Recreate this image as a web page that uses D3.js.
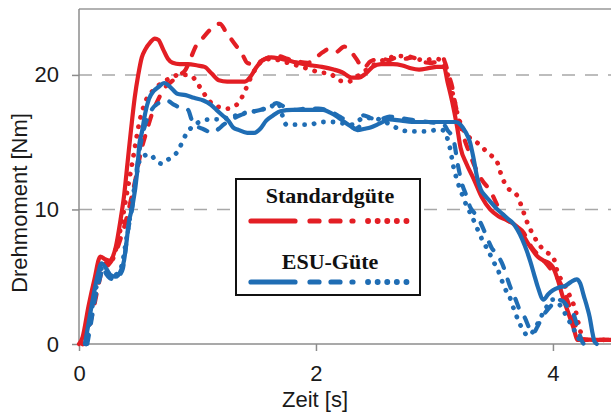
<!DOCTYPE html>
<html>
<head>
<meta charset="utf-8">
<script src="https://cdn.jsdelivr.net/npm/d3@7/dist/d3.min.js"></script>
<style>
  body { margin: 0; background: #fff; }
  svg { display: block; }
</style>
</head>
<body>
<svg id="root" width="611" height="414"></svg>
<script>
// Zeit [s] / Drehmoment [Nm]
const xTicks = [0, 2, 4]
const yTicks = [0, 10, 20]

const stdSolid = [[0,0],[0.03,0.5],[0.08,2.8],[0.13,4.8],[0.18,6.5],[0.22,6.3],[0.26,6.2],[0.31,7.2],[0.35,9.2],[0.38,11.0],[0.41,13.5],[0.44,16.0],[0.47,18.3],[0.50,20.0],[0.53,21.3],[0.56,21.9],[0.60,22.4],[0.64,22.7],[0.67,22.6],[0.71,21.9],[0.75,21.2],[0.79,20.9],[0.85,20.8],[0.92,20.8],[1.0,20.7],[1.06,20.6],[1.12,20.1],[1.18,19.6],[1.25,19.5],[1.33,19.5],[1.40,19.5],[1.45,19.9],[1.50,20.6],[1.55,21.1],[1.62,21.3],[1.70,21.2],[1.80,21.0],[1.90,20.8],[1.97,20.7],[2.05,20.6],[2.15,20.4],[2.22,20.2],[2.30,19.8],[2.36,19.8],[2.42,20.1],[2.48,20.6],[2.55,20.8],[2.65,20.8],[2.73,20.7],[2.80,20.5],[2.87,20.4],[2.95,20.5],[3.02,20.6],[3.08,20.6],[3.11,19.5],[3.15,18.0],[3.19,16.2],[3.22,14.6],[3.27,13.4],[3.33,12.3],[3.40,10.9],[3.47,10.0],[3.54,9.5],[3.61,9.2],[3.70,8.7],[3.76,7.9],[3.81,7.2],[3.87,6.5],[3.92,6.2],[3.97,6.0],[4.0,5.7],[4.04,4.8],[4.08,3.6],[4.13,2.3],[4.17,1.3],[4.21,0.3],[4.26,0.35],[4.35,0.3],[4.49,0.3]]

const stdDash = [[0.05,0],[0.08,1.0],[0.12,2.5],[0.16,4.2],[0.2,5.6],[0.25,5.9],[0.3,6.6],[0.35,7.8],[0.4,9.3],[0.44,10.8],[0.48,12.4],[0.52,14.2],[0.57,15.8],[0.62,17.2],[0.67,18.2],[0.72,19.0],[0.78,19.5],[0.85,20.0],[0.90,20.4],[0.95,21.4],[0.99,22.2],[1.04,22.7],[1.10,23.3],[1.15,23.7],[1.19,23.8],[1.24,23.2],[1.29,22.6],[1.34,22.0],[1.38,21.5],[1.42,20.9],[1.47,20.8],[1.53,21.0],[1.60,21.3],[1.68,21.4],[1.76,21.2],[1.85,21.0],[1.93,20.9],[2.0,21.3],[2.06,21.7],[2.10,21.9],[2.17,21.7],[2.24,22.1],[2.28,21.9],[2.34,21.2],[2.40,20.5],[2.46,21.0],[2.55,21.2],[2.62,21.1],[2.68,21.3],[2.75,21.2],[2.81,21.3],[2.89,21.0],[2.96,20.9],[3.03,21.0],[3.07,21.3],[3.09,20.9],[3.12,20.0],[3.15,19.1],[3.17,18.1],[3.20,16.9],[3.25,15.3],[3.30,14.1],[3.34,13.2],[3.40,12.2],[3.47,11.4],[3.55,10.0],[3.62,9.2],[3.68,8.8],[3.75,8.3],[3.82,7.2],[3.90,6.4],[3.97,5.7],[4.03,5.0],[4.08,4.2],[4.12,3.3],[4.17,2.0],[4.23,0.5],[4.27,0.3],[4.49,0.3]]

const stdDot = [[0.03,0],[0.07,1.5],[0.12,3.5],[0.17,5.5],[0.21,6.0],[0.26,6.0],[0.31,7.0],[0.36,9.0],[0.41,11.5],[0.46,14.0],[0.51,16.5],[0.56,18.0],[0.62,18.8],[0.70,19.4],[0.78,19.8],[0.84,20.0],[0.90,20.0],[0.95,19.9],[1.02,19.1],[1.08,18.3],[1.13,17.8],[1.19,17.6],[1.25,17.5],[1.30,17.6],[1.36,18.1],[1.40,18.8],[1.45,19.8],[1.50,20.6],[1.56,21.1],[1.63,21.2],[1.72,21.0],[1.80,20.8],[1.88,20.6],[1.95,20.4],[2.03,20.2],[2.12,20.1],[2.19,19.6],[2.27,19.5],[2.35,19.9],[2.43,20.4],[2.52,20.9],[2.60,21.2],[2.68,21.4],[2.76,21.4],[2.84,21.2],[2.92,21.1],[3.00,21.2],[3.06,21.1],[3.10,20.4],[3.13,19.4],[3.16,18.4],[3.20,16.9],[3.24,16.0],[3.30,15.3],[3.37,14.9],[3.45,14.2],[3.53,13.5],[3.57,12.4],[3.62,11.6],[3.70,11.0],[3.74,10.1],[3.78,9.1],[3.84,8.0],[3.90,7.2],[3.95,6.8],[4.0,6.5],[4.04,5.3],[4.09,4.5],[4.13,3.8],[4.19,2.5],[4.23,1.0],[4.26,0.3],[4.49,0.3]]

const esuSolid = [[0.05,0],[0.08,1.5],[0.12,3.5],[0.16,5.2],[0.19,6.0],[0.23,5.6],[0.27,5.1],[0.31,5.0],[0.35,5.4],[0.38,6.2],[0.40,7.5],[0.42,9.0],[0.45,10.2],[0.49,12.7],[0.51,14.9],[0.53,15.7],[0.56,17.2],[0.59,18.2],[0.63,18.8],[0.67,19.1],[0.72,19.4],[0.77,19.1],[0.83,18.6],[0.90,18.5],[0.97,18.3],[1.05,18.1],[1.11,17.8],[1.16,17.4],[1.21,17.0],[1.26,16.6],[1.30,16.1],[1.35,15.9],[1.42,15.7],[1.48,15.7],[1.53,16.0],[1.58,16.6],[1.64,17.0],[1.70,17.3],[1.80,17.4],[1.90,17.4],[2.0,17.4],[2.06,17.4],[2.12,17.2],[2.18,16.9],[2.24,16.5],[2.29,16.2],[2.35,15.9],[2.41,16.0],[2.46,16.1],[2.54,16.4],[2.62,16.7],[2.72,16.6],[2.85,16.5],[2.95,16.5],[3.05,16.5],[3.13,16.5],[3.18,16.5],[3.22,16.3],[3.26,15.8],[3.30,15.0],[3.33,13.8],[3.36,12.4],[3.39,11.5],[3.43,11.0],[3.47,10.6],[3.52,10.1],[3.57,9.7],[3.62,9.3],[3.66,9.0],[3.70,8.5],[3.74,7.8],[3.78,6.9],[3.81,6.1],[3.84,5.2],[3.87,4.3],[3.92,3.3],[3.96,3.7],[4.0,4.0],[4.05,4.2],[4.10,4.3],[4.15,4.6],[4.20,4.8],[4.23,4.5],[4.26,3.6],[4.29,2.7],[4.31,2.0],[4.33,1.0],[4.35,0.2],[4.37,0]]

const esuDash = [[0.07,0],[0.10,1.5],[0.14,3.6],[0.18,5.0],[0.20,5.7],[0.23,5.2],[0.26,4.9],[0.30,4.8],[0.34,5.1],[0.37,5.6],[0.39,6.8],[0.41,8.2],[0.45,10.2],[0.49,13.2],[0.53,15.3],[0.57,16.6],[0.62,17.5],[0.67,17.9],[0.71,18.1],[0.74,18.1],[0.80,17.8],[0.87,17.5],[0.92,17.4],[0.95,16.7],[0.98,16.3],[1.04,16.0],[1.09,15.8],[1.13,15.7],[1.18,16.0],[1.22,16.3],[1.29,16.7],[1.36,17.0],[1.43,17.2],[1.53,17.4],[1.60,17.6],[1.67,17.9],[1.74,17.6],[1.82,17.4],[1.92,17.5],[2.02,17.5],[2.12,17.3],[2.20,16.9],[2.27,16.5],[2.33,16.0],[2.37,16.2],[2.40,17.0],[2.46,16.8],[2.54,16.7],[2.62,16.9],[2.70,16.8],[2.78,16.7],[2.86,16.6],[2.95,16.5],[3.03,16.4],[3.08,16.3],[3.11,15.9],[3.16,15.2],[3.20,13.2],[3.23,12.0],[3.27,11.0],[3.30,10.2],[3.34,9.7],[3.39,9.0],[3.43,8.2],[3.48,7.2],[3.54,6.5],[3.58,5.8],[3.61,5.0],[3.65,4.0],[3.69,3.2],[3.72,2.5],[3.76,2.0],[3.80,1.2],[3.83,0.8],[3.87,1.3],[3.91,2.0],[3.95,2.5],[3.99,2.9],[4.03,3.3],[4.08,3.2],[4.13,2.7],[4.17,2.3],[4.21,1.2],[4.24,0.3],[4.26,0]]

const esuDot = [[0.06,0],[0.10,2.2],[0.14,4.0],[0.19,5.6],[0.23,5.3],[0.27,5.0],[0.32,5.2],[0.36,5.8],[0.40,7.8],[0.44,10.0],[0.48,12.3],[0.51,13.6],[0.55,14.0],[0.60,14.1],[0.65,13.6],[0.70,13.4],[0.75,13.7],[0.80,14.0],[0.84,14.4],[0.88,15.2],[0.92,15.8],[0.98,16.3],[1.04,16.6],[1.12,16.7],[1.19,16.7],[1.25,16.8],[1.30,16.9],[1.36,17.1],[1.42,17.2],[1.48,17.3],[1.53,17.4],[1.61,17.6],[1.68,17.9],[1.72,16.9],[1.75,16.3],[1.81,16.3],[1.87,16.3],[1.95,16.3],[2.03,16.5],[2.14,16.5],[2.23,16.4],[2.31,16.3],[2.40,16.8],[2.48,16.8],[2.56,16.6],[2.65,16.2],[2.72,15.9],[2.80,15.8],[2.88,15.8],[2.94,15.8],[3.01,15.9],[3.07,15.9],[3.10,15.5],[3.13,14.6],[3.16,13.2],[3.19,12.2],[3.23,11.2],[3.27,10.3],[3.31,9.6],[3.36,8.6],[3.40,7.8],[3.45,7.0],[3.50,6.1],[3.55,5.2],[3.59,4.2],[3.63,3.6],[3.67,2.6],[3.71,1.7],[3.75,1.0],[3.79,0.6],[3.83,0.9],[3.87,1.5],[3.91,2.2],[3.95,2.8],[4.00,3.3],[4.05,3.0],[4.10,2.3],[4.15,1.5],[4.20,0.7],[4.24,0]]

const red = '#e31e24'
const blue = '#1f6db4'
const styles = {
  solid: { width: 4.2, dash: null },
  dash: { width: 4.2, dash: '9,12' },
  dot: { width: 4.8, dash: '0.1,9.5' }
}

const series = [
  { data: stdSolid, color: red, style: 'solid' },
  { data: stdDash, color: red, style: 'dash' },
  { data: stdDot, color: red, style: 'dot' },
  { data: esuSolid, color: blue, style: 'solid' },
  { data: esuDash, color: blue, style: 'dash' },
  { data: esuDot, color: blue, style: 'dot' }
]

const root = d3.select('#root')
const plotLeft = 79, plotTop = 9, plotRight = 611, plotBottom = 344

const x = d3.scaleLinear().domain([0, 4.49]).range([plotLeft, plotRight])
const y = d3.scaleLinear().domain([0, 24.9]).range([plotBottom, plotTop])

// gitter
root.append('g')
  .selectAll('line')
  .data(yTicks.filter((d) => d > 0))
  .enter().append('line')
  .attr('x1', plotLeft).attr('x2', plotRight)
  .attr('y1', (d) => y(d)).attr('y2', (d) => y(d))
  .attr('stroke', '#a8a8a8')
  .attr('stroke-width', 1.5)
  .attr('stroke-dasharray', '13,10')

// rahmen oben
root.append('line')
  .attr('x1', plotLeft).attr('x2', plotRight)
  .attr('y1', plotTop).attr('y2', plotTop)
  .attr('stroke', '#999').attr('stroke-width', 1.5)

const yAxis = root.append('g')
  .attr('transform', `translate(${plotLeft},0)`)
  .call(d3.axisLeft(y).tickValues(yTicks).tickFormat(d3.format('d')).tickSize(7).tickPadding(13))
yAxis.select('.domain').attr('d', `M0,${plotTop}V${plotBottom}`)

const xAxis = root.append('g')
  .attr('transform', `translate(0,${plotBottom})`)
  .call(d3.axisBottom(x).tickValues(xTicks).tickFormat(d3.format('d')).tickSize(7).tickPadding(14))
xAxis.select('.domain').attr('d', `M${plotLeft},0H${plotRight}`)

root.selectAll('.domain, .tick line')
  .attr('stroke', '#8c8c8c')
  .attr('stroke-width', 1.5)
root.selectAll('.tick text')
  .attr('font-family', 'Liberation Sans, Arial, sans-serif')
  .attr('font-size', 22)
  .attr('fill', '#1a1a1a')

const line = d3.line()
  .x((d) => x(d[0]))
  .y((d) => y(d[1]))
  .curve(d3.curveMonotoneX)

root.append('g')
  .selectAll('path')
  .data(series)
  .enter().append('path')
  .attr('d', (d) => line(d.data))
  .attr('fill', 'none')
  .attr('stroke', (d) => d.color)
  .attr('stroke-width', (d) => styles[d.style].width)
  .attr('stroke-dasharray', (d) => styles[d.style].dash)
  .attr('stroke-linecap', 'round')
  .attr('stroke-linejoin', 'round')

// achsentitel
root.append('text')
  .attr('transform', 'translate(27,203) rotate(-90)')
  .attr('text-anchor', 'middle')
  .attr('font-family', 'Liberation Sans, Arial, sans-serif')
  .attr('font-size', 22)
  .attr('fill', '#1a1a1a')
  .text('Drehmoment [Nm]')

root.append('text')
  .attr('x', 315).attr('y', 407)
  .attr('text-anchor', 'middle')
  .attr('font-family', 'Liberation Sans, Arial, sans-serif')
  .attr('font-size', 22)
  .attr('fill', '#1a1a1a')
  .text('Zeit [s]')

// legende
const legend = root.append('g')
legend.append('rect')
  .attr('x', 236).attr('y', 179)
  .attr('width', 184).attr('height', 116)
  .attr('fill', '#fff')
  .attr('stroke', '#111')
  .attr('stroke-width', 2)

const groups = [
  { name: 'Standardgüte', color: red, ty: 203, ly: 221 },
  { name: 'ESU-Güte', color: blue, ty: 269, ly: 282 }
]
const samples = [
  { style: 'solid', x1: 251, x2: 295 },
  { style: 'dash', x1: 310, x2: 353 },
  { style: 'dot', x1: 368, x2: 410 }
]

groups.forEach((g) => {
  legend.append('text')
    .attr('x', 330).attr('y', g.ty)
    .attr('text-anchor', 'middle')
    .attr('font-family', 'Liberation Serif, Times New Roman, serif')
    .attr('font-weight', 'bold')
    .attr('font-size', 22)
    .attr('fill', '#111')
    .text(g.name)
  samples.forEach((s) => {
    legend.append('line')
      .attr('x1', s.x1).attr('x2', s.x2)
      .attr('y1', g.ly).attr('y2', g.ly)
      .attr('stroke', g.color)
      .attr('stroke-width', styles[s.style].width + 1)
      .attr('stroke-dasharray', styles[s.style].dash)
      .attr('stroke-linecap', 'round')
  })
})
</script>
</body>
</html>
